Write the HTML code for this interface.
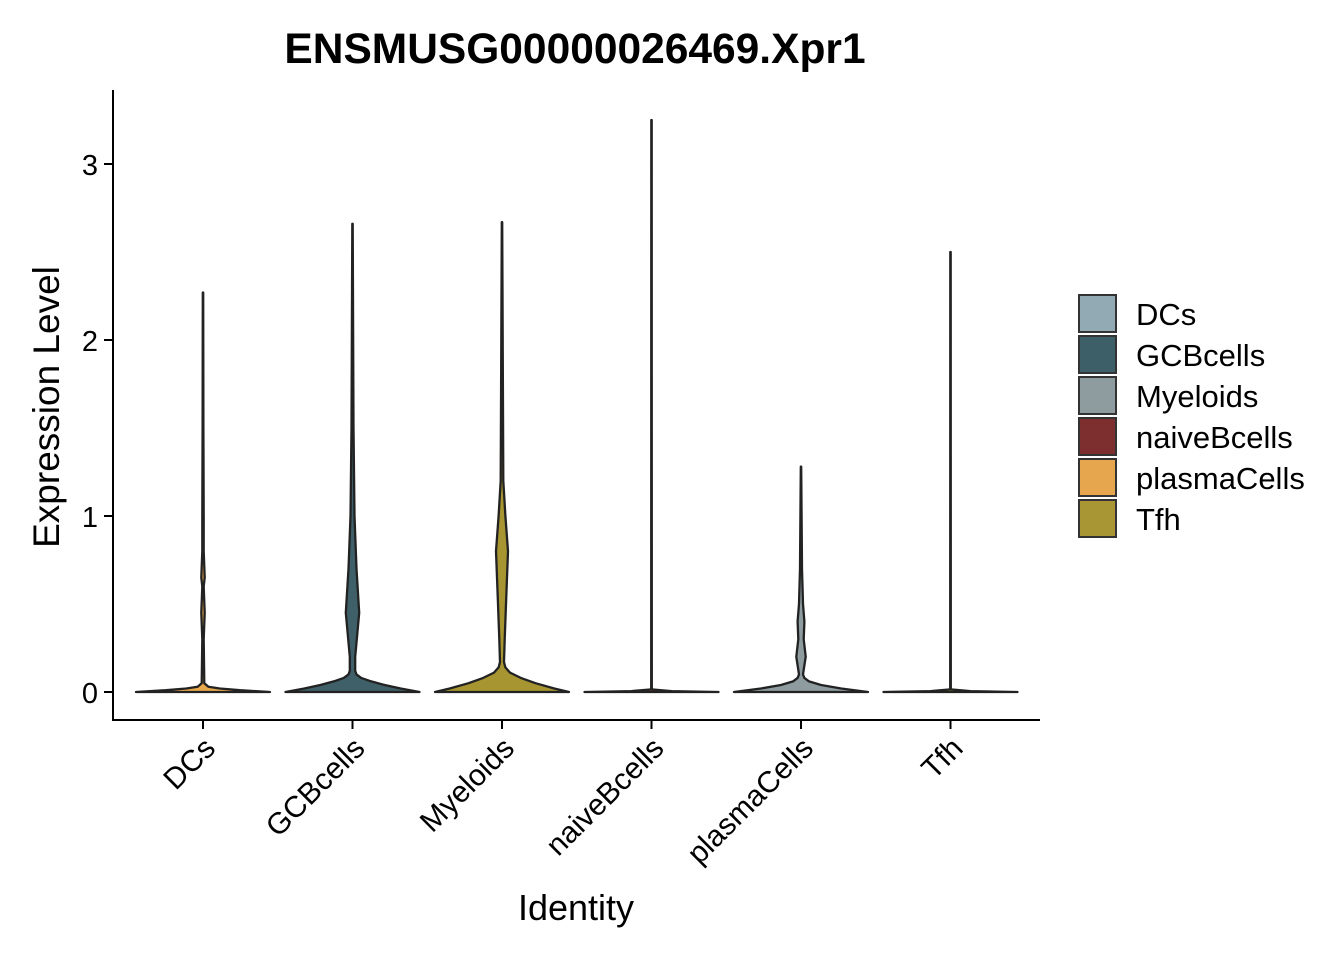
<!DOCTYPE html>
<html><head><meta charset="utf-8"><style>
body{margin:0;background:#fff}
svg text{font-family:"Liberation Sans",Arial,sans-serif}
</style></head><body>
<svg id="chart" width="1344" height="960" xmlns="http://www.w3.org/2000/svg">
<text x="575" y="63" font-size="42.5" font-weight="bold" text-anchor="middle">ENSMUSG00000026469.Xpr1</text>
<text x="576" y="920" font-size="36" text-anchor="middle">Identity</text>
<text transform="translate(59,407) rotate(-90)" font-size="37" text-anchor="middle">Expression Level</text>
<g id="plot"></g>
<g id="legend"></g>
</svg>
<script>
const categories=["DCs","GCBcells","Myeloids","naiveBcells","plasmaCells","Tfh"];
const legendColors=["#91AAB4","#3D6068","#8E9CA0","#7D2E2E","#E6A64D","#A89533"];
const violinColors=["#E8A84C","#3F6068","#A69530","#7D2E2E","#8E9CA0","#A89533"];
const maxValues=[2.27,2.66,2.67,3.25,1.28,2.5];
const yTicks=[0,1,2,3];
const profileY=[
[0,0.01,0.02,0.03,0.05,0.3,0.45,0.6,0.65,0.8,1.0,1.5],
[0,0.02,0.04,0.06,0.08,0.1,0.12,0.2,0.45,0.7,1.0,1.5],
[0,0.02,0.05,0.08,0.11,0.14,0.17,0.3,0.5,0.8,1.0,1.2],
[0,0.005,0.015],
[0,0.02,0.04,0.06,0.08,0.1,0.2,0.3,0.4,0.5,0.7],
[0,0.005,0.015]];
const profileD=[
[1,0.55,0.25,0.08,0.02,0.01,0.025,0.01,0.025,0.01,0.01,0.006],
[1,0.72,0.48,0.28,0.13,0.06,0.04,0.04,0.1,0.06,0.03,0.015],
[1,0.78,0.5,0.28,0.12,0.05,0.03,0.04,0.06,0.09,0.05,0.02],
[1,0.3,0.005],
[1,0.6,0.3,0.12,0.05,0.03,0.07,0.04,0.05,0.03,0.015],
[1,0.3,0.005]];
const NS="http://www.w3.org/2000/svg";
const X0=113,X1=1040,Y0=90,Y1=720;
const y=v=>692-v*176;
const x=i=>203+i*149.5;
const HW=67;
const plot=document.getElementById('plot');
function mk(t,a,p){const e=document.createElementNS(NS,t);for(const k in a)e.setAttribute(k,a[k]);(p||plot).appendChild(e);return e;}
categories.forEach((c,i)=>{
 const ys=profileY[i].concat([maxValues[i]]);const ds=profileD[i].concat([0.003]);
 const cx=x(i);let r=[],l=[];
 ys.forEach((v,j)=>{const w=Math.max(ds[j]*HW,0.2);r.push([cx+w,y(v)]);l.unshift([cx-w,y(v)]);});
 let d="M"+cx+","+y(0)+" ";
 r.forEach(p=>d+="L"+p[0].toFixed(1)+","+p[1].toFixed(1)+" ");
 d+="L"+cx+","+y(maxValues[i])+" ";
 l.forEach(p=>d+="L"+p[0].toFixed(1)+","+p[1].toFixed(1)+" ");
 d+="Z";
 const v=mk('path',{d:d,fill:violinColors[i],stroke:"#222",'stroke-width':2.3,'stroke-linejoin':'round'});
 
 
 const t=mk('line',{x1:cx,x2:cx,y1:Y1,y2:Y1+9,stroke:"#000",'stroke-width':2});
 
 
 const lb=mk('text',{transform:`translate(${cx+14},${Y1+30}) rotate(-45)`,'font-size':30,'text-anchor':'end'});
 lb.textContent=c;
 
 
});
yTicks.forEach(v=>{
 const t=mk('line',{x1:X0-9,x2:X0,y1:y(v),y2:y(v),stroke:"#000",'stroke-width':2});
 
 
 const lb=mk('text',{x:X0-15,y:y(v)+11,'font-size':29,'text-anchor':'end'});
 lb.textContent=v;
 
 
});
const ax=mk('line',{x1:X0,x2:X0,y1:Y0,y2:Y1+1,stroke:"#000",'stroke-width':2});


const ax2=mk('line',{x1:X0-1,x2:X1,y1:Y1,y2:Y1,stroke:"#000",'stroke-width':2});


const leg=document.getElementById('legend');


categories.forEach((c,i)=>{
 const r=mk('rect',{x:1079,y:295+i*41,width:37,height:37,fill:legendColors[i],stroke:"#333",'stroke-width':2},leg);
 
 
 const t=mk('text',{x:1136,y:325+i*41,'font-size':31},leg);
 t.textContent=c;
 
 
});
</script>
</body></html>
